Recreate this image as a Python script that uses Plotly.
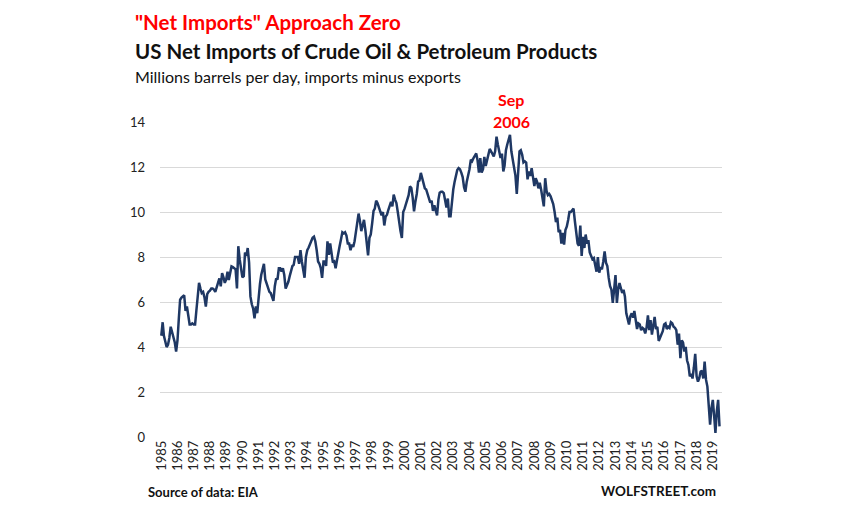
import pandas as pd
import plotly.graph_objects as go

# Monthly US net imports of crude oil & petroleum products (million b/d)
v1985 = [4.5, 5.1, 4.5, 4.3, 4.0, 4.1, 4.4, 4.9, 4.7, 4.5, 4.2, 3.8]
v1986 = [4.3, 5.3, 6.1, 6.2, 6.25, 6.3, 5.6, 5.8, 5.4, 5.0, 5.0, 5.05]
v1987 = [5.0, 5.0, 5.6, 6.4, 6.85, 6.6, 6.4, 6.45, 6.2, 5.8, 6.35, 6.45]
v1988 = [6.5, 6.6, 6.6, 6.55, 6.45, 6.65, 6.85, 7.05, 6.7, 7.28, 7.1, 6.85]
v1989 = [7.0, 7.35, 6.98, 7.3, 7.58, 7.55, 7.5, 7.45, 6.6, 8.48, 7.9, 7.5]
v1990 = [7.1, 7.15, 8.2, 8.05, 8.4, 7.75, 6.25, 5.9, 5.7, 5.27, 5.8, 5.5]
v1991 = [6.24, 6.8, 7.2, 7.45, 7.7, 7.0, 6.8, 6.6, 6.45, 6.4, 6.2, 6.05]
v1992 = [6.7, 7.05, 7.0, 7.5, 7.5, 7.35, 7.5, 7.2, 6.6, 6.75, 6.9, 7.15]
v1993 = [7.35, 7.6, 7.65, 8.0, 8.0, 8.0, 7.7, 8.3, 7.8, 7.5, 7.08, 8.0]
v1994 = [8.3, 8.42, 8.55, 8.65, 8.85, 8.9, 8.7, 8.3, 7.8, 7.7, 7.5, 7.07]
v1995 = [7.8, 7.8, 7.6, 8.7, 8.1, 8.6, 8.2, 7.75, 7.8, 7.5, 7.85, 8.25]
v1996 = [8.5, 8.8, 9.1, 9.05, 9.1, 8.95, 8.6, 8.6, 8.3, 8.55, 8.45, 8.7]
v1997 = [9.1, 9.6, 9.93, 9.6, 9.15, 9.4, 9.65, 9.2, 8.6, 8.07, 8.85, 9.0]
v1998 = [9.5, 10.05, 10.15, 10.5, 10.4, 10.2, 10.0, 9.85, 10.0, 9.4, 9.8, 9.88]
v1999 = [10.1, 10.35, 10.45, 10.25, 10.77, 10.55, 10.4, 10.0, 9.5, 9.15, 8.85, 10.0]
v2000 = [10.15, 10.35, 10.5, 10.75, 11.14, 11.07, 10.65, 10.03, 10.47, 10.8, 11.35, 11.4]
v2001 = [11.74, 11.5, 11.3, 11.05, 11.0, 10.8, 10.6, 10.42, 10.5, 10.05, 10.3, 10.1]
v2002 = [9.85, 10.55, 10.86, 10.9, 10.9, 10.84, 10.5, 10.2, 10.6, 9.81, 9.81, 10.6]
v2003 = [11.0, 11.35, 11.6, 11.87, 11.95, 11.9, 11.75, 11.55, 11.1, 10.9, 11.35, 11.6]
v2004 = [11.9, 12.33, 12.26, 12.4, 12.5, 12.6, 12.3, 11.75, 12.4, 11.75, 11.9, 12.45]
v2005 = [12.05, 12.3, 12.65, 12.8, 12.7, 12.6, 12.47, 12.7, 13.35, 13.0, 12.65, 12.4]
v2006 = [12.6, 11.8, 12.05, 12.75, 13.0, 13.2, 13.43, 12.7, 12.35, 11.9, 11.62, 10.8]
v2007 = [12.0, 12.7, 12.75, 12.55, 12.2, 12.25, 12.2, 11.45, 11.8, 11.6, 11.95, 11.6]
v2008 = [11.15, 11.5, 11.35, 11.05, 11.3, 11.0, 10.7, 10.25, 11.5, 10.95, 10.75, 10.8]
v2009 = [10.7, 10.5, 10.35, 10.0, 9.55, 9.75, 9.1, 9.2, 8.6, 9.07, 8.55, 9.2]
v2010 = [9.36, 9.66, 10.0, 10.0, 10.1, 10.15, 9.6, 9.2, 8.6, 8.5, 9.4, 8.05]
v2011 = [8.9, 8.4, 9.0, 8.6, 8.75, 8.2, 8.05, 7.9, 7.95, 7.65, 7.35, 8.0]
v2012 = [7.3, 7.55, 7.45, 7.8, 8.25, 7.75, 7.6, 7.07, 6.7, 6.55, 5.96, 6.55]
v2013 = [7.2, 5.96, 6.55, 6.84, 6.55, 6.4, 6.55, 6.25, 5.5, 5.3, 5.0, 5.36]
v2014 = [5.5, 5.3, 5.6, 5.2, 4.8, 5.05, 5.0, 4.75, 4.85, 4.8, 4.6, 4.85]
v2015 = [5.41, 4.75, 5.2, 4.55, 4.95, 5.34, 4.8, 4.9, 4.27, 4.4, 4.6, 4.7]
v2016 = [5.0, 5.05, 4.8, 4.9, 4.85, 5.1, 5.05, 4.9, 4.85, 4.75, 4.1, 4.6]
v2017 = [3.5, 4.3, 4.2, 3.8, 4.0, 3.4, 3.2, 2.7, 2.8, 2.6, 3.1, 3.7]
v2018 = [2.7, 2.46, 2.6, 2.9, 2.95, 2.6, 3.35, 2.55, 2.24, 1.58, 0.55, 1.28]
v2019 = [1.65, 0.91, 0.18, 1.14, 1.65, 0.47]

years = list(range(1985, 2020))
year_labels = [str(y) for y in years]
y_ticks = [0, 2, 4, 6, 8, 10, 12, 14]

values = (v1985 + v1986 + v1987 + v1988 + v1989 + v1990 + v1991 + v1992 + v1993 +
          v1994 + v1995 + v1996 + v1997 + v1998 + v1999 + v2000 + v2001 + v2002 +
          v2003 + v2004 + v2005 + v2006 + v2007 + v2008 + v2009 + v2010 + v2011 +
          v2012 + v2013 + v2014 + v2015 + v2016 + v2017 + v2018 + v2019)
dates = pd.date_range("1985-01-01", periods=len(values), freq="MS")

FONT = "Lato"
NAVY = "#1f3864"
RED = "#ff0000"

# plot area in pixels
L, R, T, B = 160, 722, 122, 437
W, H = 850, 510


def px(x):
    return (x - L) / (R - L)


def py(y):
    return (B - y) / (B - T)


fig = go.Figure()
fig.add_trace(go.Scatter(x=dates, y=values, mode="lines",
                         line=dict(color=NAVY, width=2.5), hoverinfo="skip"))

fig.update_layout(
    width=W, height=H,
    margin=dict(l=L, r=W - R, t=T, b=H - B),
    paper_bgcolor="white", plot_bgcolor="white",
    showlegend=False,
    font=dict(family=FONT, color="#222"),
)
fig.update_xaxes(
    type="date",
    range=["1984-12-03", "2019-07-27"],
    tickvals=[f"{y}-01-01" for y in years],
    ticktext=year_labels,
    tickangle=-90,
    tickfont=dict(family=FONT, size=13, color="#222"),
    showgrid=False, zeroline=False, showline=False,
    ticks="", ticklen=0,
)
fig.update_yaxes(
    range=[0, 14],
    tickvals=y_ticks,
    ticktext=[str(v) for v in y_ticks],
    tickfont=dict(family=FONT, size=13, color="#222"),
    showgrid=True, gridcolor="#d9d9d9", gridwidth=1.3,
    zeroline=False, showline=False, ticks="", ticklabelstandoff=14,
)

# white box behind the peak label (knocks out the top gridline)
fig.add_shape(type="rect", xref="x", yref="y",
              x0="2004-11-15", x1="2010-01-15", y0=13.8, y1=14.2,
              fillcolor="white", line=dict(width=0), layer="between")

ann = [
    dict(text='"Net Imports" Approach Zero', x=px(133), y=py(22), size=20.5,
         color=RED, bold=True, xanchor="left"),
    dict(text="US Net Imports of Crude Oil & Petroleum Products", x=px(133), y=py(51),
         size=20.5, color="#111", bold=True, xanchor="left"),
    dict(text="Millions barrels per day, imports minus exports", x=px(133), y=py(76),
         size=16, color="#111", bold=False, xanchor="left"),
    dict(text="Sep", x=px(511), y=py(99), size=16, color=RED, bold=True, xanchor="center"),
    dict(text="2006", x=px(511), y=py(121), size=16, color=RED, bold=True, xanchor="center"),
    dict(text="Source of data: EIA", x=px(146), y=py(492), size=13, color="#111",
         bold=True, xanchor="left"),
    dict(text="WOLFSTREET.com", x=px(718), y=py(491), size=13.5, color="#111",
         bold=True, xanchor="right"),
]
for a in ann:
    t = f"<b>{a['text']}</b>" if a["bold"] else a["text"]
    fig.add_annotation(text=t, xref="paper", yref="paper", x=a["x"], y=a["y"],
                       xanchor=a["xanchor"], yanchor="middle", showarrow=False,
                       font=dict(family=FONT, size=a["size"], color=a["color"]))

fig.write_html("out.html")
